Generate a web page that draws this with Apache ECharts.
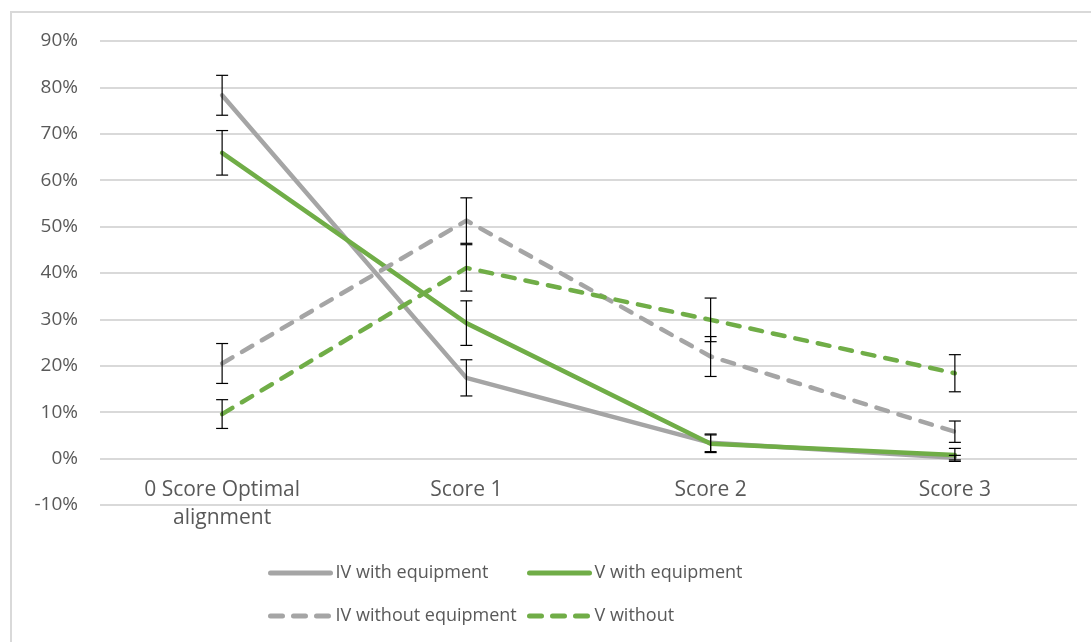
<!DOCTYPE html>
<html>
<head>
<meta charset="utf-8">
<script src="https://cdn.jsdelivr.net/npm/echarts@6/dist/echarts.min.js"></script>
<style>
  html, body { margin: 0; padding: 0; background: #fff; }
  #chart { width: 1091px; height: 642px; }
</style>
</head>
<body>
<div id="chart"></div>
<script>
// Categories along the x axis
const categories = ['0 Score Optimal\nalignment', 'Score 1', 'Score 2', 'Score 3'];

// Y-axis ticks (percent)
const yTicks = { min: -10, max: 90, step: 10 };

// Series values (percent)
const ivWith = [78.3, 17.4, 3.4, 0.2];
const vWith = [65.9, 29.2, 3.2, 0.8];
const ivWithout = [20.5, 51.3, 22.0, 5.8];
const vWithout = [9.6, 41.1, 29.9, 18.4];

// Error bar half-widths (percent)
const ivWithErr = [4.3, 3.9, 1.9, 0.5];
const vWithErr = [4.8, 4.8, 1.9, 1.4];
const ivWithoutErr = [4.3, 4.9, 4.3, 2.3];
const vWithoutErr = [3.1, 5.0, 4.7, 4.0];

// Series names
const names = ['IV with equipment', 'V with equipment', 'IV without equipment', 'V without'];

const GRAY = '#a5a5a5';
const GREEN = '#70ad47';
const TEXT = '#595959';
const GRID = '#d9d9d9';
const FONT = 'Open Sans';

function errData(vals, errs) {
  return vals.map((v, i) => [i, v - errs[i], v + errs[i]]);
}

function errorSeries(vals, errs) {
  return {
    type: 'custom',
    z: 5,
    silent: true,
    data: errData(vals, errs),
    encode: { x: 0, y: [1, 2] },
    renderItem: function (params, api) {
      const lo = api.coord([api.value(0), api.value(1)]);
      const hi = api.coord([api.value(0), api.value(2)]);
      const half = 6;
      const style = { stroke: '#000', lineWidth: 1.2 };
      return {
        type: 'group',
        children: [
          { type: 'line', shape: { x1: hi[0], y1: hi[1], x2: lo[0], y2: lo[1] }, style: style },
          { type: 'line', shape: { x1: hi[0] - half, y1: hi[1], x2: hi[0] + half, y2: hi[1] }, style: style },
          { type: 'line', shape: { x1: lo[0] - half, y1: lo[1], x2: lo[0] + half, y2: lo[1] }, style: style }
        ]
      };
    }
  };
}

function lineSeries(name, data, color, dashed) {
  return {
    name: name,
    type: 'line',
    data: data,
    showSymbol: false,
    symbol: 'none',
    z: 3,
    lineStyle: {
      color: color,
      width: 4.5,
      type: dashed ? [12, 11] : 'solid',
      cap: 'round'
    },
    itemStyle: { color: color }
  };
}

function legendAt(name, left, top) {
  return {
    data: [name],
    left: left,
    top: top,
    padding: 0,
    itemWidth: 60,
    itemHeight: 18,
    itemGap: 0,
    selectedMode: false,
    itemStyle: { opacity: 0 },
    lineStyle: { width: 5, cap: 'round' },
    textStyle: { color: TEXT, fontSize: 18, fontFamily: FONT, padding: [0, 0, 0, 0] }
  };
}

const chart = echarts.init(document.getElementById('chart'), null, { renderer: 'canvas' });

chart.setOption({
  backgroundColor: '#fff',
  animation: false,
  graphic: [{
    type: 'rect',
    shape: { x: 11, y: 12, width: 1200, height: 800 },
    style: { fill: 'none', stroke: GRID, lineWidth: 2 },
    silent: true,
    z: -1
  }],
  grid: { left: 100, right: 14, top: 41, bottom: 137 },
  legend: [
    legendAt(names[0], 268, 564),
    legendAt(names[1], 527, 564),
    legendAt(names[2], 268, 607),
    legendAt(names[3], 527, 607)
  ],
  xAxis: {
    type: 'category',
    data: categories,
    boundaryGap: true,
    axisLine: { show: false, onZero: false },
    axisTick: { show: false },
    axisLabel: {
      color: TEXT,
      fontSize: 21,
      fontFamily: FONT,
      margin: -29,
      lineHeight: 28,
      interval: 0
    }
  },
  yAxis: {
    type: 'value',
    min: yTicks.min,
    max: yTicks.max,
    interval: yTicks.step,
    axisLine: { show: false },
    axisTick: { show: false },
    splitLine: { lineStyle: { color: GRID, width: 2 } },
    axisLabel: {
      color: TEXT,
      fontSize: 19,
      fontFamily: FONT,
      margin: 22,
      formatter: '{value}%'
    }
  },
  series: [
    lineSeries(names[0], ivWith, GRAY, false),
    lineSeries(names[1], vWith, GREEN, false),
    lineSeries(names[2], ivWithout, GRAY, true),
    lineSeries(names[3], vWithout, GREEN, true),
    errorSeries(ivWith, ivWithErr),
    errorSeries(vWith, vWithErr),
    errorSeries(ivWithout, ivWithoutErr),
    errorSeries(vWithout, vWithoutErr)
  ]
});
</script>
</body>
</html>
